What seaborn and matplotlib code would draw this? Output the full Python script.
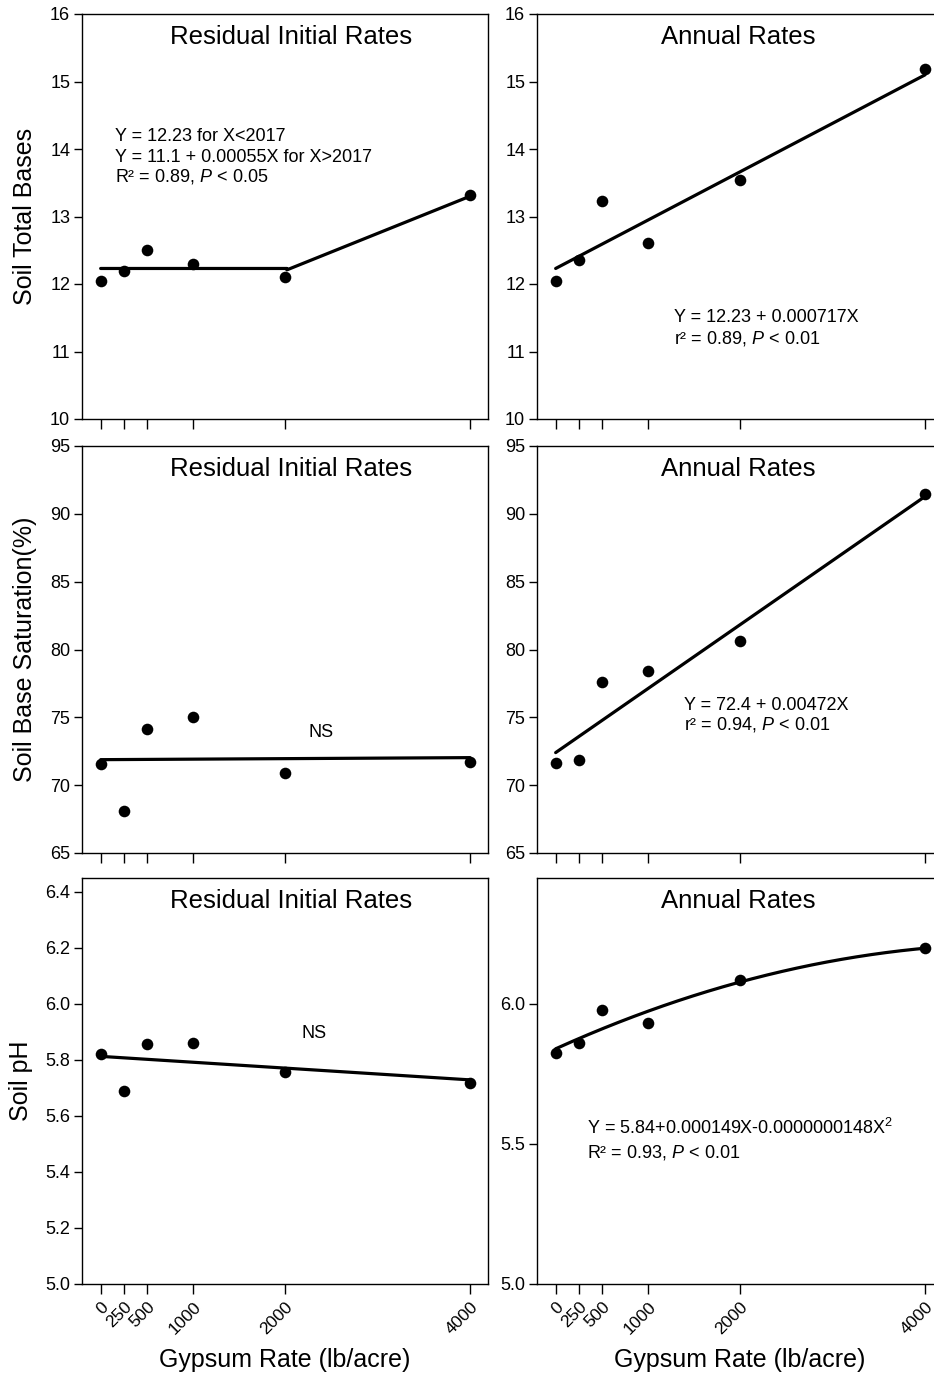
import numpy as np
import pandas as pd
import matplotlib
matplotlib.use("Agg")
import matplotlib.pyplot as plt
import seaborn as sns

# ---------------- data ----------------
rates = [0, 250, 500, 1000, 2000, 4000]
tick_labels = ["0", "250", "500", "1000", "2000", "4000"]

tb_residual = [12.04, 12.19, 12.50, 12.29, 12.11, 13.32]
tb_annual = [12.05, 12.35, 13.23, 12.61, 13.54, 15.18]
bs_residual = [71.59, 68.07, 74.15, 75.06, 70.90, 71.71]
bs_annual = [71.61, 71.84, 77.59, 78.43, 80.61, 91.48]
ph_residual = [5.823, 5.688, 5.857, 5.862, 5.757, 5.717]
ph_annual = [5.824, 5.860, 5.980, 5.931, 6.086, 6.199]

# fitted equations printed on the chart
tb_res_flat = 12.23
tb_res_int, tb_res_slope, tb_res_break = 11.1, 0.00055, 2017
tb_ann_int, tb_ann_slope = 12.23, 0.000717
bs_res_line = [71.88, 72.03]          # NS line ends
bs_ann_int, bs_ann_slope = 72.4, 0.00472
ph_res_line = [5.813, 5.729]          # NS line ends
ph_ann_c = [5.84, 0.000149, -0.0000000148]

# ---------------- style ----------------
sns.set_style("ticks")
plt.rcParams["font.family"] = ["Liberation Sans", "DejaVu Sans"]
plt.rcParams["mathtext.fontset"] = "custom"
plt.rcParams["mathtext.rm"] = "Liberation Sans"
plt.rcParams["mathtext.it"] = "Liberation Sans:italic"
plt.rcParams["axes.linewidth"] = 1.0
plt.rcParams["axes.edgecolor"] = "black"
plt.rcParams["text.color"] = "black"
plt.rcParams["axes.labelcolor"] = "black"
plt.rcParams["xtick.color"] = "black"
plt.rcParams["ytick.color"] = "black"

W, H = 934, 1374
fig = plt.figure(figsize=(W / 100, H / 100), dpi=100)

def pos(l, t, r, b):
    return [l / W, 1 - b / H, (r - l) / W, (b - t) / H]

rows = [(14, 419), (446, 853), (878, 1284)]
cols = [(82, 488), (537, 943)]
axes = [[fig.add_axes(pos(cl, rt, cr, rb)) for (cl, cr) in cols] for (rt, rb) in rows]

TICK_FS = 13
XTICK_FS = 12.5
ANN_FS = 13
TITLE_FS = 18.5
LAB_FS = 18
LW = 2.3

def setup(ax, ylim, yticks, ylabfmt, show_xlabels, right):
    ax.set_xlim(-202, 4195)
    ax.set_ylim(*ylim)
    ax.set_xticks(rates)
    ax.set_yticks(yticks)
    ax.set_yticklabels([ylabfmt.format(v) for v in yticks], fontsize=TICK_FS)
    if show_xlabels:
        ax.set_xticklabels(tick_labels, fontsize=XTICK_FS, rotation=45,
                           ha="right", va="top", rotation_mode="anchor")
    else:
        ax.set_xticklabels([])
    ax.tick_params(axis="x", direction="out", length=7, width=1.0, pad=4, colors="black")
    ax.tick_params(axis="y", direction="out", length=6, width=1.0, pad=2.5, colors="black")
    for s in ax.spines.values():
        s.set_visible(True)
        s.set_color("black")
        s.set_linewidth(1.0)
    if right:
        ax.spines["right"].set_visible(False)
    ax.set_xlabel("")
    ax.set_ylabel("")

def points(ax, y):
    df = pd.DataFrame({"x": rates, "y": y})
    sns.scatterplot(data=df, x="x", y="y", ax=ax, color="black", s=70,
                    linewidth=0, zorder=4, legend=False, clip_on=False)

def line(ax, xs, ys):
    df = pd.DataFrame({"x": xs, "y": ys})
    sns.lineplot(data=df, x="x", y="y", ax=ax, color="black", lw=LW,
                 sort=False, estimator=None, zorder=3, legend=False)

def title(ax, txt, right):
    ax.text(0.495 if right else 0.514, 0.944, txt, transform=ax.transAxes,
            ha="center", va="center", fontsize=TITLE_FS)

# ---- Row 1: total bases ----
ax = axes[0][0]
xs1 = np.array([0, tb_res_break])
xs2 = np.array([tb_res_break, 4000])
line(ax, list(xs1) + list(xs2),
     [tb_res_flat, tb_res_flat] + list(tb_res_int + tb_res_slope * xs2))
points(ax, tb_residual)
setup(ax, (10, 16), [10, 11, 12, 13, 14, 15, 16], "{:.0f}", False, False)
title(ax, "Residual Initial Rates", False)
ax.text(155, 14.18, "Y = 12.23 for X<2017", fontsize=ANN_FS, va="center")
ax.text(155, 13.88, "Y = 11.1 + 0.00055X for X>2017", fontsize=ANN_FS, va="center")
ax.text(155, 13.59, "R² = 0.89, $P$ < 0.05", fontsize=ANN_FS, va="center")

ax = axes[0][1]
xl = np.array([0, 4000])
line(ax, xl, tb_ann_int + tb_ann_slope * xl)
points(ax, tb_annual)
setup(ax, (10, 16), [10, 11, 12, 13, 14, 15, 16], "{:.0f}", False, True)
title(ax, "Annual Rates", True)
ax.text(1287, 11.50, "Y = 12.23 + 0.000717X", fontsize=ANN_FS, va="center")
ax.text(1287, 11.20, "r² = 0.89, $P$ < 0.01", fontsize=ANN_FS, va="center")

# ---- Row 2: base saturation ----
ax = axes[1][0]
line(ax, [0, 4000], bs_res_line)
points(ax, bs_residual)
setup(ax, (65, 95), [65, 70, 75, 80, 85, 90, 95], "{:.0f}", False, False)
title(ax, "Residual Initial Rates", False)
ax.text(2383, 73.85, "NS", fontsize=ANN_FS, ha="center", va="center")

ax = axes[1][1]
line(ax, xl, bs_ann_int + bs_ann_slope * xl)
points(ax, bs_annual)
setup(ax, (65, 95), [65, 70, 75, 80, 85, 90, 95], "{:.0f}", False, True)
title(ax, "Annual Rates", True)
ax.text(1395, 75.9, "Y = 72.4 + 0.00472X", fontsize=ANN_FS, va="center")
ax.text(1395, 74.45, "r² = 0.94, $P$ < 0.01", fontsize=ANN_FS, va="center")

# ---- Row 3: pH ----
ax = axes[2][0]
line(ax, [0, 4000], ph_res_line)
points(ax, ph_residual)
setup(ax, (5.0, 6.45), [5.0, 5.2, 5.4, 5.6, 5.8, 6.0, 6.2, 6.4], "{:.1f}", True, False)
title(ax, "Residual Initial Rates", False)
ax.text(2310, 5.895, "NS", fontsize=ANN_FS, ha="center", va="center")

ax = axes[2][1]
xc = np.linspace(0, 4000, 200)
line(ax, xc, ph_ann_c[0] + ph_ann_c[1] * xc + ph_ann_c[2] * xc ** 2)
points(ax, ph_annual)
setup(ax, (5.0, 6.45), [5.0, 5.5, 6.0], "{:.1f}", True, True)
title(ax, "Annual Rates", True)
ax.text(340, 5.557, "Y = 5.84+0.000149X-0.0000000148X$^{2}$", fontsize=ANN_FS, va="center")
ax.text(340, 5.468, "R² = 0.93, $P$ < 0.01", fontsize=ANN_FS, va="center")

# ---- axis labels ----
for txt, yc, xb in [("Soil Total Bases", 216.5, 32), ("Soil Base Saturation(%)", 649.5, 32),
                    ("Soil pH", 1081, 28)]:
    fig.text(xb / W, 1 - yc / H, txt, rotation=90, rotation_mode="anchor",
             ha="center", va="baseline", fontsize=LAB_FS)

for xc_px in [285, 740]:
    fig.text(xc_px / W, 1 - 1360 / H, "Gypsum Rate (lb/acre)", ha="center",
             va="center", fontsize=LAB_FS)

fig.savefig("out.png", dpi=100)
